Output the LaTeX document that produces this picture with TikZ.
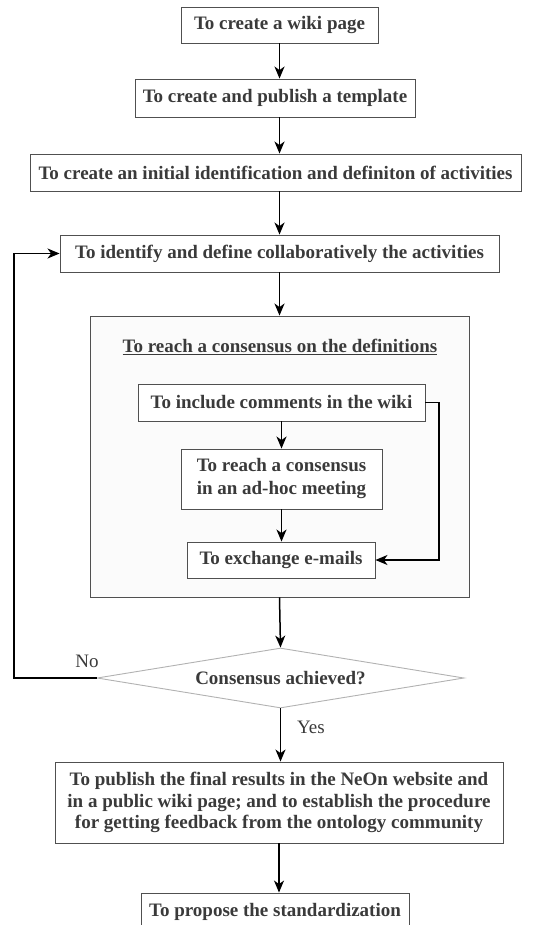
\documentclass[tikz,border=0pt]{standalone}
\usepackage{fontspec}
\setmainfont{Liberation Serif}
\usetikzlibrary{arrows.meta,shapes.geometric}
\definecolor{txt}{HTML}{3A3A3A}
\definecolor{brd}{HTML}{505050}
\tikzset{
  box/.style={draw=brd, line width=0.9pt, fill=white, text=txt, font=\fontsize{19}{21.8}\selectfont\bfseries, inner sep=2pt, align=center},
  arr/.style={draw=black, line width=1.5pt, -{Stealth[length=12pt,width=10pt,inset=3.5pt]}},
  lbl/.style={text=txt, font=\fontsize{19}{21.8}\selectfont},
}
\begin{document}
\begin{tikzpicture}[x=1pt,y=-1pt]
\useasboundingbox (0,0) rectangle (541,925);
\clip (0,0) rectangle (541,925);
\node[box, minimum width=197pt, minimum height=36pt] (b1) at (279.5,25) {To create a wiki page};
\node[box, minimum width=280pt, minimum height=38pt] (b2) at (275,98) {To create and publish a template};
\node[box, minimum width=491pt, minimum height=37pt] (b3) at (275.5,172.5) {To create an initial identification and definiton of activities};
\node[box, minimum width=439pt, minimum height=37pt] (b4) at (279.5,253.5) {To identify and define collaboratively the activities};
\node[draw=brd, line width=0.9pt, fill=gray!3, minimum width=379pt, minimum height=281pt] (outer) at (279.5,456.5) {};
\node[lbl, font=\fontsize{19}{21.8}\selectfont\bfseries] (title) at (280,347) {\underline{To reach a consensus on the definitions}};
\node[box, minimum width=287pt, minimum height=37pt] (i1) at (281.5,402.5) {To include comments in the wiki};
\node[box, minimum width=201pt, minimum height=60pt, font=\fontsize{19}{23}\selectfont\bfseries] (i2) at (281.5,479) {To reach a consensus\\in an ad-hoc meeting};
\node[box, minimum width=188pt, minimum height=36pt] (i3) at (281,560) {To exchange e-mails};
\node[diamond, aspect=6.12, draw=gray!60, line width=0.9pt, fill=white, text=txt, font=\fontsize{19}{21.8}\selectfont\bfseries, inner sep=0pt, minimum width=367pt, minimum height=60pt] (dia) at (280.5,678) {Consensus achieved?};
\node[box, minimum width=448pt, minimum height=81pt] (b5) at (279,802.5) {To publish the final results in the NeOn website and\\in a public wiki page; and to establish the procedure\\for getting feedback from the ontology community};
\node[box, minimum width=268pt, minimum height=38pt] (b6) at (275,912) {To propose the standardization};
\node[lbl] (no) at (87,661) {No};
\node[lbl] (yes) at (311,727) {Yes};
\coordinate (lp) at (14,678);
\coordinate (rp) at (439,402.5);
\draw[arr] (b1.south) -- (b1.south |- b2.north);
\draw[arr] (b1.south |- b2.south) -- (b1.south |- b3.north);
\draw[arr] (b1.south |- b3.south) -- (b1.south |- b4.north);
\draw[arr] (b4.south) -- (b4.south |- outer.north);
\draw[arr] (i1.south) -- (i1.south |- i2.north);
\draw[arr] (i2.south) -- (i2.south |- i3.north);
\draw[arr] (i1.east) -- (rp) |- (i3.east);
\draw[arr] (outer.south) -- (dia.north);
\draw[arr] (dia.west) -- (lp) |- (b4.west);
\draw[arr] (dia.south) -- (dia.south |- b5.north);
\draw[arr] (b5.south) -- (b5.south |- b6.north);
\end{tikzpicture}
\end{document}
